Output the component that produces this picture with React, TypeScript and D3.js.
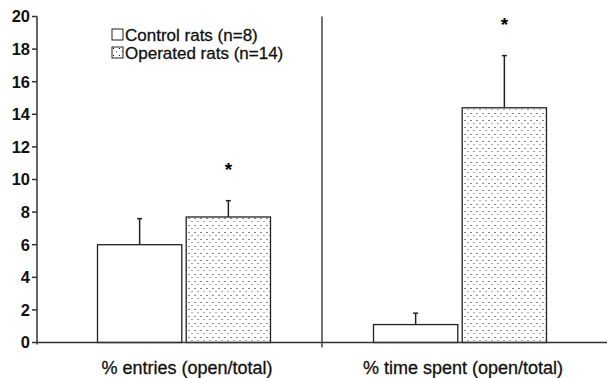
import * as d3 from "d3";
import { useEffect, useRef } from "react";

const categories = ["% entries (open/total)", "% time spent (open/total)"];
const groups = ["Control rats (n=8)", "Operated rats (n=14)"];
const controlMeans = [6.0, 1.1];
const controlErr = [7.6, 1.8];
const operatedMeans = [7.7, 14.4];
const operatedErr = [8.7, 17.6];
const significant = [true, true];
const yTicks = [0, 2, 4, 6, 8, 10, 12, 14, 16, 18, 20];

const W = 607;
const H = 378;

export default function App() {
  const svgRef = useRef(null);

  useEffect(() => {
    const svg = d3.select(svgRef.current);
    svg.selectAll("*").remove();

    const font = "'Liberation Sans', Arial, sans-serif";
    const y = d3.scaleLinear().domain([0, 20]).range([342.5, 16.5]);
    const x0 = d3.scaleBand().domain(categories).range([46, 598]);
    const x1 = d3.scaleBand().domain(groups).range([0, 173]).paddingInner(0.05);

    const defs = svg.append("defs");
    const pat = defs
      .append("pattern")
      .attr("id", "dots")
      .attr("patternUnits", "userSpaceOnUse")
      .attr("width", 6)
      .attr("height", 7);
    pat.append("rect").attr("width", 6).attr("height", 7).attr("fill", "#fff");
    pat.append("rect").attr("x", 1).attr("y", 1).attr("width", 1).attr("height", 1).attr("fill", "#111");
    pat.append("rect").attr("x", 4).attr("y", 4).attr("width", 1).attr("height", 1).attr("fill", "#555");

    const rows = categories.map((c, i) => [
      { cat: c, g: groups[0], v: controlMeans[i], e: controlErr[i], fill: "#fff" },
      { cat: c, g: groups[1], v: operatedMeans[i], e: operatedErr[i], fill: "url(#dots)" },
    ]);

    const gg = svg
      .selectAll(".grp")
      .data(rows)
      .enter()
      .append("g")
      .attr("class", "grp")
      .attr("transform", (d) => `translate(${x0(d[0].cat) + (x0.bandwidth() - 173) / 2},0)`);

    const bar = gg.selectAll(".bar").data((d) => d).enter().append("g");
    // error bars first
    bar
      .append("line")
      .attr("x1", (d) => x1(d.g) + x1.bandwidth() / 2)
      .attr("x2", (d) => x1(d.g) + x1.bandwidth() / 2)
      .attr("y1", (d) => y(d.v))
      .attr("y2", (d) => y(d.e))
      .attr("stroke", "#222")
      .attr("stroke-width", 1.5);
    bar
      .append("line")
      .attr("x1", (d) => x1(d.g) + x1.bandwidth() / 2 - 2.5)
      .attr("x2", (d) => x1(d.g) + x1.bandwidth() / 2 + 2.5)
      .attr("y1", (d) => y(d.e))
      .attr("y2", (d) => y(d.e))
      .attr("stroke", "#222")
      .attr("stroke-width", 1.5);
    bar
      .append("rect")
      .attr("x", (d) => x1(d.g))
      .attr("y", (d) => y(d.v))
      .attr("width", x1.bandwidth())
      .attr("height", (d) => y(0) - y(d.v))
      .attr("fill", (d) => d.fill)
      .attr("stroke", "#222")
      .attr("stroke-width", 1.3);

    // significance stars
    gg.each(function (d, i) {
      if (!significant[i]) return;
      const o = d[1];
      d3.select(this)
        .append("text")
        .attr("x", x1(o.g) + x1.bandwidth() / 2)
        .attr("y", y(o.e) - 25)
        .attr("text-anchor", "middle")
        .attr("font-family", font)
        .attr("font-weight", "bold")
        .attr("font-size", 19)
        .text("*");
    });

    // axes
    svg
      .append("line")
      .attr("x1", 37)
      .attr("x2", W)
      .attr("y1", y(0))
      .attr("y2", y(0))
      .attr("stroke", "#333")
      .attr("stroke-width", 1.5);
    svg
      .append("line")
      .attr("x1", 37)
      .attr("x2", 37)
      .attr("y1", y(20))
      .attr("y2", y(0) + 2)
      .attr("stroke", "#333")
      .attr("stroke-width", 1.5);
    const dividerX = x0(categories[1]);
    svg
      .append("line")
      .attr("x1", dividerX)
      .attr("x2", dividerX)
      .attr("y1", y(20))
      .attr("y2", y(0) + 5)
      .attr("stroke", "#444")
      .attr("stroke-width", 1.5);

    const yt = svg.selectAll(".yt").data(yTicks).enter().append("g");
    yt.append("line")
      .attr("x1", 32)
      .attr("x2", 37)
      .attr("y1", (d) => y(d))
      .attr("y2", (d) => y(d))
      .attr("stroke", "#333")
      .attr("stroke-width", 1.5);
    yt.append("text")
      .attr("x", 30)
      .attr("y", (d) => y(d))
      .attr("dy", "0.36em")
      .attr("text-anchor", "end")
      .attr("font-family", font)
      .attr("font-weight", "bold")
      .attr("font-size", 16.5)
      .attr("fill", "#111")
      .text((d) => d);

    svg
      .selectAll(".xl")
      .data(categories)
      .enter()
      .append("text")
      .attr("x", (d) => x0(d) + x0.bandwidth() / 2 + 3)
      .attr("y", 374)
      .attr("text-anchor", "middle")
      .attr("font-family", font)
      .attr("font-size", 18)
      .attr("fill", "#111")
      .attr("stroke", "#111")
      .attr("stroke-width", 0.3)
      .text((d) => d);

    // legend
    const leg = svg
      .selectAll(".leg")
      .data(groups)
      .enter()
      .append("g")
      .attr("transform", (d, i) => `translate(112,${29 + i * 18})`);
    leg
      .append("rect")
      .attr("width", 11)
      .attr("height", 11)
      .attr("fill", (d, i) => (i === 0 ? "#fff" : "url(#dots)"))
      .attr("stroke", "#222")
      .attr("stroke-width", 1);
    leg
      .append("text")
      .attr("x", 13)
      .attr("y", 6)
      .attr("dy", "0.36em")
      .attr("font-family", font)
      .attr("font-size", 17)
      .attr("fill", "#111")
      .attr("stroke", "#111")
      .attr("stroke-width", 0.3)
      .text((d) => d);
  }, []);

  return (
    <svg
      ref={svgRef}
      width={W}
      height={H}
      style={{ position: "absolute", left: 0, top: 0, background: "#fff" }}
    ></svg>
  );
}
